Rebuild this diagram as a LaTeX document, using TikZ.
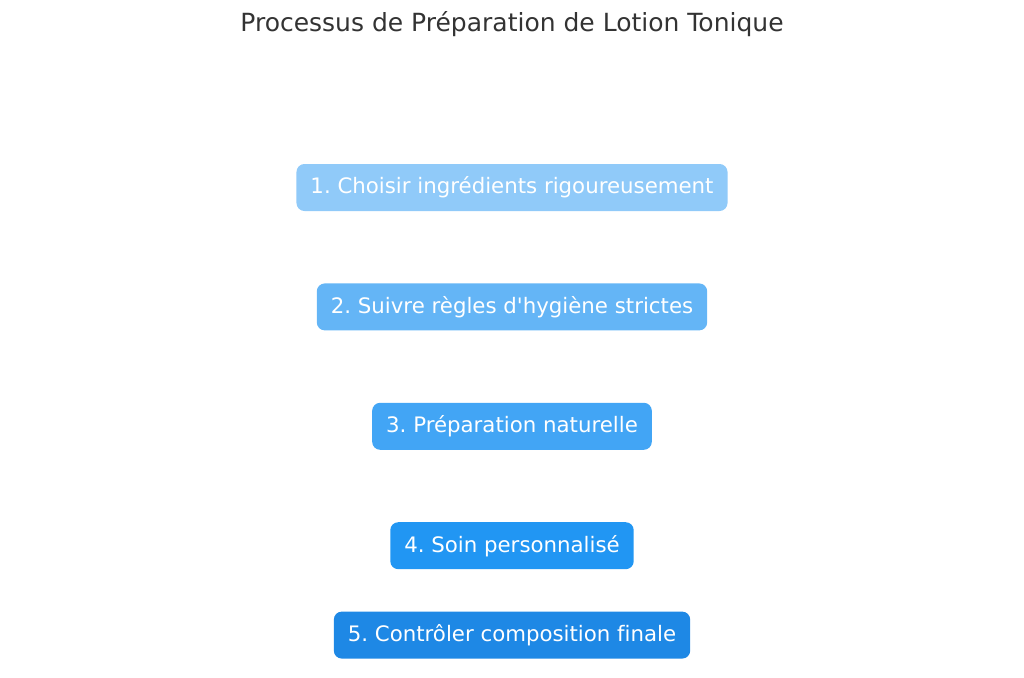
\documentclass[tikz,border=0pt]{standalone}
\usepackage{fontspec}
\setmainfont[Ligatures=NoCommon]{DejaVu Sans}
\usetikzlibrary{positioning}
\frenchspacing
\definecolor{stepa}{HTML}{90CAF9}
\definecolor{stepb}{HTML}{64B5F6}
\definecolor{stepc}{HTML}{42A5F5}
\definecolor{stepd}{HTML}{2196F3}
\definecolor{stepe}{HTML}{1E88E5}
\definecolor{titlegray}{HTML}{333333}
\begin{document}
\begin{tikzpicture}[x=1pt,y=-1pt,
  stepbox/.style={rounded corners=8pt,text=white,font=\fontsize{21.3}{25}\selectfont,
    minimum height=47pt,inner xsep=14pt,inner ysep=0pt},
  node distance=72pt]
\useasboundingbox (0,0) rectangle (1024,677);
\node[text=titlegray,font=\fontsize{25}{30}\selectfont] (title) at (512,24) {Processus de Préparation de Lotion Tonique};
\node[stepbox,fill=stepa] (s1) at (512,187.5) {1. Choisir ingrédients rigoureusement};
\node[stepbox,fill=stepb,below=of s1] (s2) {2. Suivre règles d\textquotesingle hygiène strictes};
\node[stepbox,fill=stepc,below=of s2] (s3) {3. Préparation naturelle};
\node[stepbox,fill=stepd,below=of s3] (s4) {4. Soin personnalisé};
\node[stepbox,fill=stepe,below=42pt of s4] (s5) {5. Contrôler composition finale};
\end{tikzpicture}
\end{document}
